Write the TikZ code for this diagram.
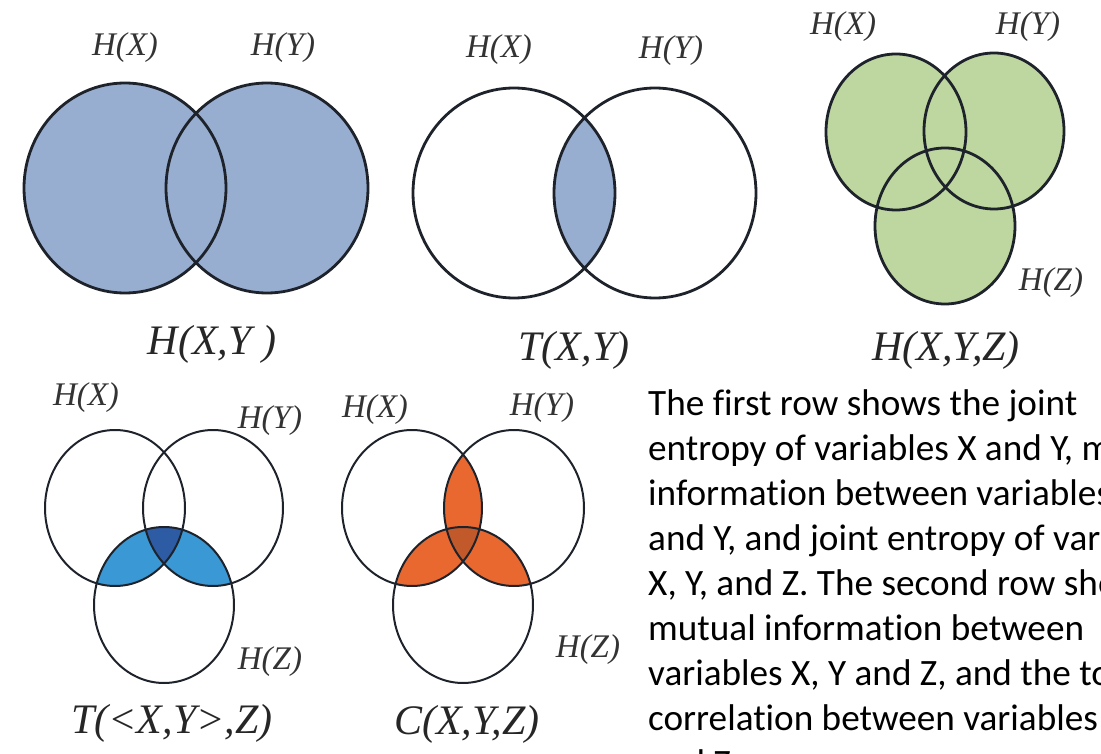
\documentclass[tikz,border=0pt]{standalone}
\usepackage{fontspec}
\setmainfont{Liberation Serif}
\newfontfamily\bodyfont[Ligatures=NoCommon]{Carlito}
\definecolor{greyblue}{HTML}{98AED0}
\definecolor{leafgreen}{HTML}{BED6A0}
\definecolor{skyblue}{HTML}{3A98D4}
\definecolor{deepblue}{HTML}{2E5CA4}
\definecolor{rust}{HTML}{E8682F}
\definecolor{deeprust}{HTML}{C2592A}
\definecolor{ink}{HTML}{1E232B}
\usetikzlibrary{positioning}

\begin{document}
\begin{tikzpicture}[x=1pt, y=-1pt,
    bigring/.style={x radius=101pt, y radius=105pt},
    ring/.style={x radius=70pt, y radius=78pt},
    rim/.style={draw=ink, line width=2.8pt},
    thinrim/.style={draw=ink, line width=2pt},
    lbl/.style={font=\fontsize{33}{36}\selectfont\itshape, text=black!80, inner sep=0pt},
    title/.style={font=\fontsize{42}{46}\selectfont\itshape, text=black!85, inner sep=0pt},
    txt/.style={font=\bodyfont\fontsize{37.2}{45}\selectfont, anchor=base west, inner sep=0pt}
  ]
  \useasboundingbox (0,0) rectangle (1101,754);
  \clip (0,0) rectangle (1101,754);

  % H(X,Y)
  \coordinate (aX) at (125,188);
  \coordinate (aY) at (267,188);
  \fill[greyblue] (aX) circle[bigring] (aY) circle[bigring];
  \draw[rim] (aX) circle[bigring] (aY) circle[bigring];
  \node[lbl] (aHX) at (125,48) {H(X)};
  \node[lbl] (aHY) at (283,48) {H(Y)};
  \node[title] (aH)  at (212,344) {H(X,Y )};

  % T(X,Y)
  \coordinate (bX) at (514,193);
  \coordinate (bY) at (655,193);
  \begin{scope}
    \clip (bX) circle[bigring];
    \fill[greyblue] (bY) circle[bigring];
  \end{scope}
  \draw[rim] (bX) circle[bigring] (bY) circle[bigring];
  \node[lbl] (bHX) at (499,50) {H(X)};
  \node[lbl] (bHY) at (671,51) {H(Y)};
  \node[title] (bT)  at (574,350) {T(X,Y)};

  % H(X,Y,Z)
  \coordinate (cX) at (896,132);
  \coordinate (cY) at (994,131);
  \coordinate (cZ) at (945,226);
  \fill[leafgreen] (cX) circle[ring] (cY) circle[ring] (cZ) circle[ring];
  \draw[rim] (cX) circle[ring] (cY) circle[ring] (cZ) circle[ring];
  \node[lbl] (cHX) at (843,27) {H(X)};
  \node[lbl] (cHY) at (1028,27) {H(Y)};
  \node[lbl] (cHZ) at (1051,283) {H(Z)};
  \node[title] (cH)  at (946,350) {H(X,Y,Z)};

  % T(<X,Y>,Z)
  \coordinate (dX) at (115,508);
  \coordinate (dY) at (213,508);
  \coordinate (dZ) at (164,605);
  \begin{scope}
    \clip (dZ) circle[ring];
    \fill[skyblue] (dX) circle[ring] (dY) circle[ring];
    \clip (dX) circle[ring];
    \fill[deepblue] (dY) circle[ring];
  \end{scope}
  \draw[thinrim] (dX) circle[ring] (dY) circle[ring] (dZ) circle[ring];
  \node[lbl] (dHX) at (86,398) {H(X)};
  \node[lbl] (dHY) at (270,421) {H(Y)};
  \node[lbl] (dHZ) at (270,662) {H(Z)};
  \node[title] (dT)  at (172,723) {T(<X,Y>,Z)};

  % C(X,Y,Z)
  \coordinate (eX) at (412,508);
  \coordinate (eY) at (514,508);
  \coordinate (eZ) at (463,605);
  \begin{scope}
    \clip (eX) circle[ring];
    \fill[rust] (eY) circle[ring] (eZ) circle[ring];
  \end{scope}
  \begin{scope}
    \clip (eY) circle[ring];
    \fill[rust] (eZ) circle[ring];
    \clip (eX) circle[ring];
    \fill[deeprust] (eZ) circle[ring];
  \end{scope}
  \draw[thinrim] (eX) circle[ring] (eY) circle[ring] (eZ) circle[ring];
  \node[lbl] (eHX) at (375,410) {H(X)};
  \node[lbl] (eHY) at (542,408) {H(Y)};
  \node[lbl] (eHZ) at (588,650) {H(Z)};
  \node[title] (eC)  at (467,724) {C(X,Y,Z)};

  % caption text, cut off at the right edge
  \foreach \ln [count=\i] in {
      {The first row shows the joint},
      {entropy of variables X and Y, mutual},
      {information between variables X},
      {and Y, and joint entropy of variables},
      {X, Y, and Z. The second row shows the},
      {mutual information between},
      {variables X, Y and Z, and the total},
      {correlation between variables X, Y,},
      {and Z.}}
    \node[txt] (ln\i) at (648,{415+45*(\i-1)}) {\ln};
\end{tikzpicture}
\end{document}
